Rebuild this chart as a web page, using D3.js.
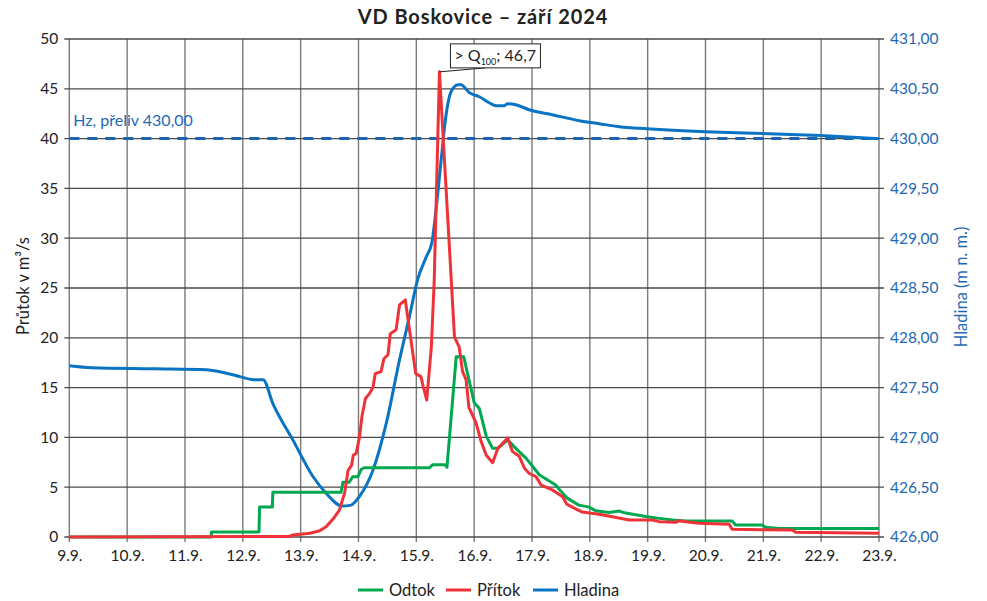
<!DOCTYPE html>
<html><head><meta charset="utf-8">
<script src="https://cdn.jsdelivr.net/npm/d3@7"></script>
<style>
body{margin:0;background:#fff;}
text{font-family:Lato, "Liberation Sans", sans-serif;}
</style></head>
<body><svg id="c" width="987" height="601"></svg>
<script>
// Days since 9.9. 00:00
const dayLabels = ["9.9.","10.9.","11.9.","12.9.","13.9.","14.9.","15.9.","16.9.","17.9.","18.9.","19.9.","20.9.","21.9.","22.9.","23.9."];
const leftTicks = [0,5,10,15,20,25,30,35,40,45,50];
const rightTicks = [426,426.5,427,427.5,428,428.5,429,429.5,430,430.5,431];
const spillLevel = 430.00;
const peakLabel = "46,7";

const odtokT = [0,2.45,2.46,3.28,3.29,3.51,3.52,4.70,4.73,4.84,4.90,4.99,5.05,5.10,6.23,6.28,6.50,6.53,6.69,6.82,6.89,7.00,7.09,7.21,7.32,7.41,7.58,7.72,7.90,8.13,8.41,8.47,8.61,8.81,8.99,9.10,9.33,9.51,9.62,9.97,10.20,10.43,10.66,11.46,11.52,11.98,12.04,12.27,14];
const odtokV = [0,0,0.5,0.5,3.0,3.0,4.5,4.5,5.5,5.5,6.05,6.05,6.8,6.95,6.95,7.25,7.25,7.0,18.1,18.1,16.3,13.5,12.9,10.1,8.9,8.9,9.75,8.9,7.9,6.22,5.22,4.8,3.9,3.2,3.0,2.64,2.45,2.6,2.4,2.05,1.87,1.7,1.6,1.6,1.2,1.2,0.97,0.85,0.85];

const pritokT = [0,3.8,3.87,4.16,4.33,4.44,4.56,4.67,4.76,4.82,4.88,4.91,4.96,5.02,5.06,5.12,5.19,5.25,5.29,5.39,5.44,5.51,5.55,5.65,5.71,5.81,5.85,5.99,6.08,6.12,6.18,6.26,6.31,6.40,6.66,6.74,6.80,6.86,6.91,7.03,7.12,7.21,7.32,7.41,7.46,7.58,7.66,7.78,7.87,7.95,8.07,8.16,8.36,8.53,8.60,8.73,8.87,9.16,9.39,9.68,10.08,10.20,10.49,10.54,10.66,10.89,11.41,11.46,12.50,12.56,14];
const pritokV = [0,0.05,0.2,0.37,0.63,1.03,1.8,2.7,4.4,6.7,7.2,8.2,8.4,10.1,12.1,13.9,14.4,15.0,16.4,16.6,17.9,18.3,20.4,20.8,23.3,23.8,22.1,16.4,16.1,15.1,13.75,19.1,25.8,46.7,20.1,19.1,16.6,15.8,13.0,11.5,9.6,8.2,7.46,8.9,9.2,9.95,8.6,8.1,6.9,6.4,6.05,5.2,4.7,4.05,3.3,2.9,2.5,2.28,2.04,1.7,1.7,1.54,1.47,1.64,1.54,1.37,1.27,0.77,0.7,0.47,0.37];

const hladinaT = [0,0.39,1.48,2.37,2.95,3.18,3.35,3.52,3.87,4.21,4.44,4.72,4.87,5.02,5.25,5.48,5.71,5.88,6.02,6.17,6.27,6.34,6.43,6.51,6.60,6.72,6.77,6.92,7.09,7.26,7.38,7.52,7.58,7.72,7.95,8.35,8.82,9.16,9.51,9.99,10.99,11.99,12.99,14];
const hladinaV = [427.72,427.70,427.69,427.68,427.61,427.58,427.58,427.34,426.97,426.61,426.44,426.31,426.32,426.41,426.67,427.14,427.78,428.21,428.58,428.81,428.96,429.28,429.79,430.22,430.47,430.54,430.54,430.46,430.42,430.36,430.33,430.33,430.35,430.34,430.29,430.24,430.18,430.15,430.12,430.10,430.07,430.05,430.03,430.00];

const C_GREEN="#00a850", C_RED="#ee3338", C_BLUE="#0a74c4", C_DASH="#1e63ad", C_AX="#1f69b4";

const svg = d3.select("#c");
const m = {l:69.3, r:879, t:39, b:537};
const x = d3.scaleLinear().domain([0,14]).range([m.l,m.r]);
const yL = d3.scaleLinear().domain([0,50]).range([m.b,m.t]);
const yR = d3.scaleLinear().domain([426,431]).range([m.b,m.t]);

// grid
const g = svg.append("g");
g.selectAll(".vg").data(d3.range(0,15)).join("line")
  .attr("x1",d=>x(d)).attr("x2",d=>x(d)).attr("y1",m.t).attr("y2",m.b+5)
  .attr("stroke","#7a7a7a").attr("stroke-width",1.4);
g.selectAll(".hg").data(leftTicks).join("line")
  .attr("x1",m.l-5).attr("x2",m.r+5).attr("y1",d=>yL(d)).attr("y2",d=>yL(d))
  .attr("stroke","#4a4a4a").attr("stroke-width",1.3);

// axes labels
const axL = d3.axisLeft(yL).tickValues(leftTicks).tickSize(0).tickPadding(11).tickFormat(d3.format("d"));
const gl = svg.append("g").attr("transform",`translate(${m.l},0)`).call(axL);
gl.select(".domain").remove();
gl.selectAll("text").attr("font-size",15.5).attr("fill","#222").attr("font-family","Lato");

const axR = d3.axisRight(yR).tickValues(rightTicks).tickSize(0).tickPadding(11).tickFormat(d=>d.toFixed(2).replace(".",","));
const gr = svg.append("g").attr("transform",`translate(${m.r},0)`).call(axR);
gr.select(".domain").remove();
gr.selectAll("text").attr("font-size",15.5).attr("fill",C_AX).attr("font-family","Lato");

const axB = d3.axisBottom(x).tickValues(d3.range(0,15)).tickSize(0).tickPadding(13).tickFormat((d,i)=>dayLabels[i]);
const gb = svg.append("g").attr("transform",`translate(0,${m.b})`).call(axB);
gb.select(".domain").remove();
gb.selectAll("text").attr("font-size",15.5).attr("fill","#222").attr("font-family","Lato");

// spill level dashed line
svg.append("line").attr("x1",m.l).attr("x2",m.r).attr("y1",yR(spillLevel)).attr("y2",yR(spillLevel))
  .attr("stroke",C_DASH).attr("stroke-width",3).attr("stroke-dasharray","10,8");
svg.append("text").attr("x",m.l+4).attr("y",yR(spillLevel)-13).attr("font-size",16).attr("fill",C_AX)
  .text("Hz, přeliv 430,00");

// series
const lineL = d3.line().x(d=>x(d[0])).y(d=>yL(d[1]));
const lineR = d3.line().x(d=>x(d[0])).y(d=>yR(d[1])).curve(d3.curveMonotoneX);
svg.append("path").datum(hladinaT.map((t,i)=>[t,hladinaV[i]])).attr("d",lineR)
  .attr("fill","none").attr("stroke",C_BLUE).attr("stroke-width",3).attr("stroke-linejoin","round");
svg.append("path").datum(odtokT.map((t,i)=>[t,odtokV[i]])).attr("d",lineL)
  .attr("fill","none").attr("stroke",C_GREEN).attr("stroke-width",3).attr("stroke-linejoin","round");
svg.append("path").datum(pritokT.map((t,i)=>[t,pritokV[i]])).attr("d",lineL)
  .attr("fill","none").attr("stroke",C_RED).attr("stroke-width",3).attr("stroke-linejoin","round");

// annotation
const pi = pritokV.indexOf(d3.max(pritokV));
const px = x(pritokT[pi]), py = yL(pritokV[pi]);
const bx = px+11, by = py-28, bw = 90, bh = 24;
svg.append("line").attr("x1",px).attr("y1",py).attr("x2",bx+35).attr("y2",by+bh).attr("stroke","#222").attr("stroke-width",1);
svg.append("rect").attr("x",bx).attr("y",by).attr("width",bw).attr("height",bh).attr("fill","#fff").attr("stroke","#222").attr("stroke-width",1);
const at = svg.append("text").attr("x",bx+4).attr("y",by+17).attr("font-size",16).attr("fill","#222");
at.append("tspan").text("> Q");
at.append("tspan").attr("font-size",9).attr("dy",4).text("100");
at.append("tspan").attr("dy",-4).text("; "+peakLabel);

// title
svg.append("text").attr("x",483).attr("y",24).attr("text-anchor","middle").attr("font-size",20).attr("font-weight","bold").attr("letter-spacing",0.9).attr("fill","#222")
  .text("VD Boskovice – září 2024");

// axis titles
svg.append("text").attr("transform","translate(29,286) rotate(-90)").attr("text-anchor","middle").attr("font-size",16.5).attr("fill","#222")
  .text("Průtok v m³/s");
svg.append("text").attr("transform","translate(967,287) rotate(-90)").attr("text-anchor","middle").attr("font-size",16.5).attr("fill",C_AX)
  .text("Hladina (m n. m.)");

// legend
const leg = [["Odtok",C_GREEN,358],["Přítok",C_RED,446],["Hladina",C_BLUE,533]];
leg.forEach(([n,c,lx])=>{
  svg.append("line").attr("x1",lx).attr("x2",lx+25).attr("y1",590).attr("y2",590).attr("stroke",c).attr("stroke-width",3);
  svg.append("text").attr("x",lx+31).attr("y",595.5).attr("font-size",16.5).attr("fill","#222").text(n);
});
</script></body></html>
